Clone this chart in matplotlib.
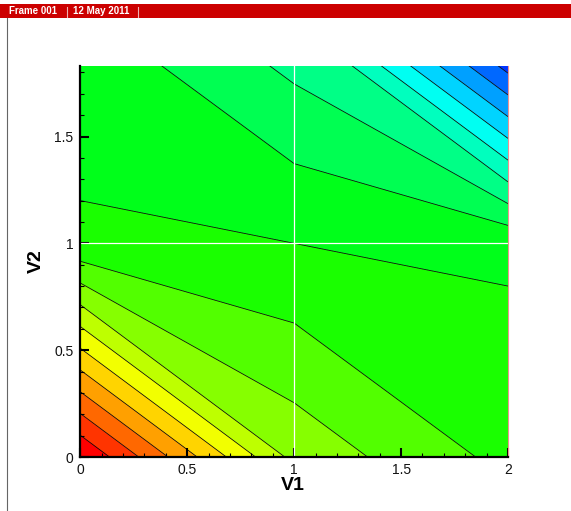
import numpy as np
import matplotlib
matplotlib.use("Agg")
import matplotlib.pyplot as plt
from matplotlib.colors import LinearSegmentedColormap
from matplotlib.patches import Rectangle
from matplotlib.lines import Line2D

# ---- data (node values on a coarse 3x3 grid) ----
v1_nodes = [0.0, 1.0, 2.0]
v2_nodes = [0.0, 1.0, 2.0]
z_row_v2_0 = [10.0, 2.68, 0.70]
z_row_v2_1 = [0.175, 0.0, -0.175]
z_row_v2_2 = [-0.70, -2.68, -10.0]
contour_levels = list(range(-10, 11))
x_ticks = [0, 0.5, 1, 1.5, 2]
x_tick_labels = ["0", "0.5", "1", "1.5", "2"]
y_ticks = [0, 0.5, 1, 1.5]
y_tick_labels = ["0", "0.5", "1", "1.5"]
header_frame = "Frame 001"
header_date = "12 May 2011"

plt.rcParams['font.family'] = ['Liberation Sans', 'DejaVu Sans']

W, H = 571, 511
fig = plt.figure(figsize=(W / 100, H / 100), dpi=100)

# header bar
fig.patches.append(Rectangle((0, 1 - 18 / H), 1, 14 / H, transform=fig.transFigure,
                             facecolor="#cc0000", edgecolor="none", zorder=0))
fig.text(9 / W, 1 - 11.5 / H, header_frame, color="white", fontsize=7, fontweight="bold",
         va="center", ha="left")
fig.text(73 / W, 1 - 11.5 / H, header_date, color="white", fontsize=7, fontweight="bold",
         va="center", ha="left")
for xs in (66.5, 137.5):
    fig.lines.append(Line2D([xs / W, xs / W], [1 - 7 / H, 1 - 17 / H], transform=fig.transFigure,
                            color="#f0b0b0", lw=0.8))
# left frame border
fig.lines.append(Line2D([7 / W, 7 / W], [0, 1 - 18 / H], transform=fig.transFigure,
                        color="#666666", lw=0.8))

left, right = 80.3 / W, 508 / W
bottom, top = 1 - 457 / H, 1 - 66 / H
ax = fig.add_axes([left, bottom, right - left, top - bottom])

X, Y = np.meshgrid(v1_nodes, v2_nodes)
Z = np.array([z_row_v2_0, z_row_v2_1, z_row_v2_2])

cmap = LinearSegmentedColormap.from_list(
    "small_rainbow", [(0, "#0000ff"), (0.25, "#00ffff"), (0.5, "#00ff00"),
                      (0.75, "#ffff00"), (1.0, "#ff0000")])
lv = np.array(contour_levels, dtype=float)
lo, hi = lv[0] + 0.5, lv[-1] - 0.5
band_colors = [cmap(np.clip(((a + b) / 2 - lo) / (hi - lo), 0, 1)) for a, b in zip(lv[:-1], lv[1:])]

ax.contourf(X, Y, Z, levels=lv, colors=band_colors, antialiased=True)
ax.contour(X, Y, Z, levels=lv[1:-1], colors="black", linewidths=0.55, linestyles="solid")

ax.axvline(1.0, color="white", lw=0.9)
ax.axhline(1.0, color="white", lw=0.9)

ax.set_xlim(0, 2)
ax.set_ylim(0, 1.83)

ax.spines["top"].set_visible(False)
ax.spines["right"].set_color("#f09090")
ax.spines["right"].set_linewidth(0.8)
for s in ("left", "bottom"):
    ax.spines[s].set_linewidth(1.6)
    ax.spines[s].set_color("black")

ax.set_xticks(x_ticks)
ax.set_xticklabels(x_tick_labels)
ax.set_yticks(y_ticks)
ax.set_yticklabels(y_tick_labels)
ax.set_xticks(np.arange(0, 2.001, 0.1), minor=True)
ax.set_yticks(np.arange(0, 1.83, 0.1), minor=True)
ax.tick_params(which="both", direction="in", top=False, right=False, color="black")
ax.tick_params(which="major", length=6.5, width=1.5, labelsize=10, labelcolor="#111111")
ax.tick_params(which="minor", length=3.2, width=0.8)
ax.tick_params(axis="x", which="major", pad=4)
ax.tick_params(axis="y", which="major", pad=5)

ax.set_xlabel("V1", fontsize=14, fontweight="bold")
ax.set_ylabel("V2", fontsize=14, fontweight="bold")
ax.xaxis.set_label_coords(0.497, -0.051)
ax.yaxis.set_label_coords(-0.083, 0.5)

fig.savefig("out.png", dpi=100)
